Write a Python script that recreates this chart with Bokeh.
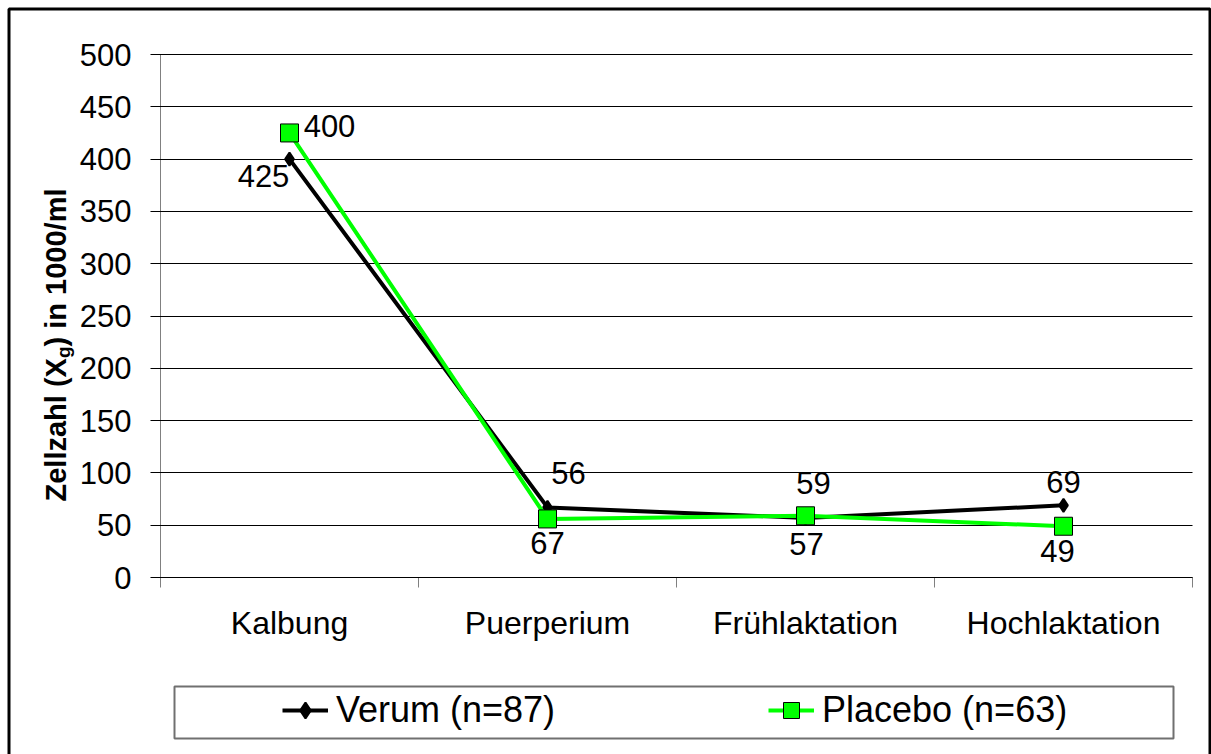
import numpy as np
from bokeh.plotting import figure
from bokeh.models import (Range1d, FixedTicker, Legend, LegendItem, Label,
                          BoxAnnotation, ColumnDataSource)
from bokeh.embed import file_html
from bokeh.resources import INLINE
from bokeh.core.properties import value

# ---- data ----
categories = ["Kalbung", "Puerperium", "Frühlaktation", "Hochlaktation"]
verum = [400, 67, 57, 69]
placebo = [425, 56, 59, 49]
verum_label_text = ["425", "56", "59", "69"]
placebo_label_text = ["400", "67", "57", "49"]
y_ticks = [0, 50, 100, 150, 200, 250, 300, 350, 400, 450, 500]
series_names = ["Verum (n=87)", "Placebo (n=63)"]
y_title_parts = ["Zellzahl (X", "g", ") in 1000/ml"]

# ---- layout / styles (pixels) ----
W, H = 1211, 754
PX_L, PX_R, PX_T, PX_B = 160, 1192, 54, 577      # plot area in canvas pixels
FONT = "Liberation Sans"
GREEN = "#00FF00"
verum_dx = [-26, 21, 8, 0]
verum_dy = [17, -34, -35, -23]
placebo_dx = [40, 0, 1, -6]
placebo_dy = [-7, 24, 28, 25]

n = len(categories)
ymax = y_ticks[-1]
ux = (PX_R - PX_L) / n          # px per category
uy = (PX_B - PX_T) / ymax       # px per value unit
x_range = Range1d(-PX_L / ux, (W - PX_L) / ux)
y_range = Range1d(-(H - PX_B) / uy, ymax + PX_T / uy)
x_pos = [i + 0.5 for i in range(n)]

p = figure(width=W, height=H, x_range=x_range, y_range=y_range,
           output_backend="svg", toolbar_location=None, min_border=0)
p.outline_line_color = None
p.background_fill_color = "white"
p.border_fill_color = "white"
p.xgrid.visible = False
p.ygrid.visible = False

# x axis: at value 0, labels at category centres, tick marks between categories
xa = p.xaxis[0]
xa.fixed_location = 0
xa.bounds = (0, n)
xa.level = "underlay"
xa.ticker = FixedTicker(ticks=x_pos, minor_ticks=list(range(n + 1)))
xa.major_label_overrides = {x: c for x, c in zip(x_pos, categories)}
xa.major_tick_out = 0
xa.major_tick_in = 0
xa.minor_tick_out = 10
xa.minor_tick_in = 0
xa.minor_tick_line_color = "#808080"
xa.axis_line_color = "black"
xa.major_label_text_font = FONT
xa.major_label_text_font_size = "32px"
xa.major_label_text_color = "black"
xa.major_label_standoff = 17

# y axis: ticks reach across the plot area as horizontal grid lines
ya = p.yaxis[0]
ya.fixed_location = 0
ya.bounds = (0, ymax)
ya.level = "underlay"
ya.ticker = FixedTicker(ticks=y_ticks)
ya.major_tick_out = 10
ya.major_tick_in = PX_R - PX_L
ya.minor_tick_line_color = None
ya.axis_line_color = "#808080"
ya.major_tick_line_color = "black"
ya.major_label_text_font = FONT
ya.major_label_text_font_size = "31px"
ya.major_label_text_color = "black"
ya.major_label_standoff = 19

# series
r_v_line = p.line(x_pos, verum, line_color="black", line_width=4)
r_v_pts = p.scatter(x_pos, verum, marker="diamond", size=13,
                    fill_color="black", line_color="black", line_width=2)
r_p_line = p.line(x_pos, placebo, line_color=GREEN, line_width=4)
r_p_pts = p.scatter(x_pos, placebo, marker="square", size=18,
                    fill_color=GREEN, line_color="black", line_width=1)

# data labels
src_v = ColumnDataSource(dict(x=x_pos, y=verum, t=verum_label_text, dx=verum_dx, dy=verum_dy))
src_p = ColumnDataSource(dict(x=x_pos, y=placebo, t=placebo_label_text, dx=placebo_dx, dy=placebo_dy))
for src in (src_v, src_p):
    p.text(x="x", y="y", text="t", x_offset="dx", y_offset="dy", source=src,
           text_align="center", text_baseline="middle", text_font=value(FONT),
           text_font_size="31px", text_color="black")

# legend
legend = Legend(items=[LegendItem(label=series_names[0], renderers=[r_v_line, r_v_pts]),
                       LegendItem(label=series_names[1], renderers=[r_p_line, r_p_pts])],
                location=(282, 23), orientation="horizontal", padding=0, spacing=202,
                glyph_width=46, glyph_height=40, label_height=40, label_width=230,
                label_standoff=8, label_text_font=FONT, label_text_font_size="36px",
                label_text_color="black",
                border_line_alpha=0, background_fill_alpha=0, margin=0)
p.add_layout(legend, "center")

# legend frame and outer chart frame
p.add_layout(BoxAnnotation(left=174, right=1173, top=686, bottom=738,
                           left_units="canvas", right_units="canvas",
                           top_units="canvas", bottom_units="canvas",
                           fill_alpha=0, line_color="#707070", line_alpha=1, line_width=2))
p.add_layout(BoxAnnotation(left=8.5, right=W - 1.5, top=8.5, bottom=H + 10,
                           left_units="canvas", right_units="canvas",
                           top_units="canvas", bottom_units="canvas",
                           fill_alpha=0, line_color="black", line_alpha=1, line_width=3))

# y-axis title with subscript g
tf = 29
main_w = 4.946 * tf
for x0, y0, txt, fs in [(55, 501, y_title_parts[0], tf),
                        (63, 501 - main_w, y_title_parts[1], 19),
                        (55, 501 - main_w - 11.6, y_title_parts[2], tf)]:
    p.add_layout(Label(x=x0, y=y0, x_units="canvas", y_units="canvas", text=txt,
                       angle=np.pi / 2, text_align="left", text_baseline="alphabetic",
                       text_font=FONT, text_font_style="bold", text_font_size=f"{fs}px",
                       text_color="black"))

with open("out.html", "w", encoding="utf-8") as f:
    f.write(file_html(p, INLINE))
